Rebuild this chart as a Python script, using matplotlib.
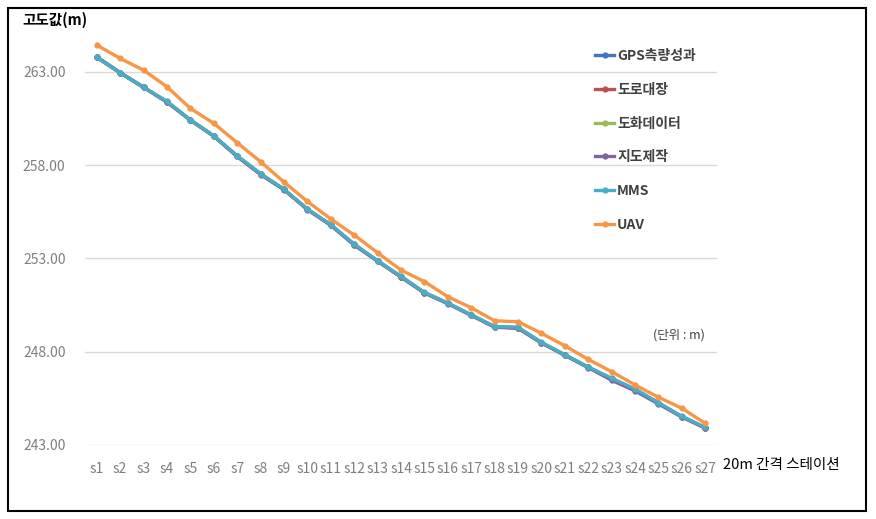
import numpy as np
import matplotlib.pyplot as plt
from matplotlib.patches import Rectangle

plt.rcParams['font.family'] = ['Noto Sans CJK KR', 'DejaVu Sans']

# 측점
stations = ['s' + str(i) for i in range(1, 28)]

# 고도값 (m)
gps = [263.80, 262.96, 262.18, 261.41, 260.43, 259.57, 258.50, 257.53, 256.71, 255.64,
       254.80, 253.76, 252.87, 252.03, 251.17, 250.60, 249.97, 249.34, 249.30, 248.49,
       247.83, 247.17, 246.55, 245.98, 245.25, 244.52, 243.93]
road = [263.78, 262.95, 262.17, 261.40, 260.42, 259.56, 258.48, 257.52, 256.70, 255.63,
        254.79, 253.74, 252.86, 252.02, 251.16, 250.59, 249.96, 249.33, 249.28, 248.48,
        247.82, 247.16, 246.52, 245.96, 245.24, 244.51, 243.92]
drawing = [263.79, 262.96, 262.18, 261.41, 260.43, 259.57, 258.49, 257.53, 256.70, 255.64,
           254.80, 253.75, 252.87, 252.03, 251.17, 250.60, 249.97, 249.34, 249.29, 248.49,
           247.83, 247.17, 246.54, 245.97, 245.25, 244.52, 243.93]
mapmake = [263.82, 262.97, 262.19, 261.38, 260.42, 259.56, 258.47, 257.50, 256.69, 255.62,
           254.78, 253.72, 252.85, 252.00, 251.15, 250.58, 249.95, 249.32, 249.25, 248.47,
           247.81, 247.15, 246.47, 245.90, 245.20, 244.50, 243.90]
mms = [263.79, 262.96, 262.18, 261.42, 260.43, 259.58, 258.51, 257.55, 256.72, 255.65,
       254.82, 253.77, 252.88, 252.04, 251.18, 250.61, 249.98, 249.35, 249.31, 248.50,
       247.84, 247.18, 246.58, 246.00, 245.27, 244.53, 243.94]
uav = [264.45, 263.73, 263.10, 262.21, 261.05, 260.25, 259.21, 258.19, 257.10, 256.06,
       255.12, 254.26, 253.31, 252.38, 251.76, 250.95, 250.36, 249.66, 249.61, 248.99,
       248.32, 247.59, 246.93, 246.22, 245.56, 244.97, 244.16]

series = [('GPS측량성과', gps, '#4472C4'),
          ('도로대장', road, '#C0504D'),
          ('도화데이터', drawing, '#9BBB59'),
          ('지도제작', mapmake, '#8064A2'),
          ('MMS', mms, '#4BACC6'),
          ('UAV', uav, '#F79646')]

fig = plt.figure(figsize=(8.76, 5.19), dpi=100)
ax = fig.add_axes([85/876, 1-445/519, (717-85)/876, (445-34.7)/519])

x = np.arange(len(stations))
for name, vals, col in series:
    ax.plot(x, vals, color=col, lw=2.4, marker='o', markersize=3.5, label=name)

ax.set_xlim(-0.5, len(stations) - 0.5)
ax.set_ylim(243, 265)
ax.set_yticks([243, 248, 253, 258, 263])
ax.set_yticklabels(['%.2f' % v for v in [243, 248, 253, 258, 263]])
ax.set_xticks(x)
ax.set_xticklabels(stations)
ax.tick_params(length=0, colors='#7f7f7f', labelsize=10)
ax.tick_params(axis='y', pad=14)
ax.tick_params(axis='x', pad=12)
ax.grid(axis='y', color='#d9d9d9', lw=1)
ax.set_axisbelow(True)
for s in ax.spines.values():
    s.set_visible(False)

leg = ax.legend(loc='upper left', bbox_to_anchor=(595/876, 1-49/519),
                bbox_transform=fig.transFigure, frameon=False, fontsize=10,
                labelspacing=1.42, handlelength=1.4, handletextpad=0.2,
                borderpad=0, borderaxespad=0)
for t in leg.get_texts():
    t.set_color('#404040')
    t.set_fontweight('bold')

fig.text(22/876, 1-20/519, '고도값(m)', fontsize=10.5, fontweight='bold', va='center', ha='left')
fig.text(705/876, 1-335/519, '(단위 : m)', fontsize=9, color='#404040', va='center', ha='right')
fig.text(723/876, 1-465/519, '20m 간격 스테이션', fontsize=10.5, fontweight='medium', va='center', ha='left')

fig.patches.append(Rectangle((8/876, 8/519), 858/876, 503/519, transform=fig.transFigure,
                             fill=False, edgecolor='black', lw=1.5))

fig.savefig('out.png', dpi=100)
